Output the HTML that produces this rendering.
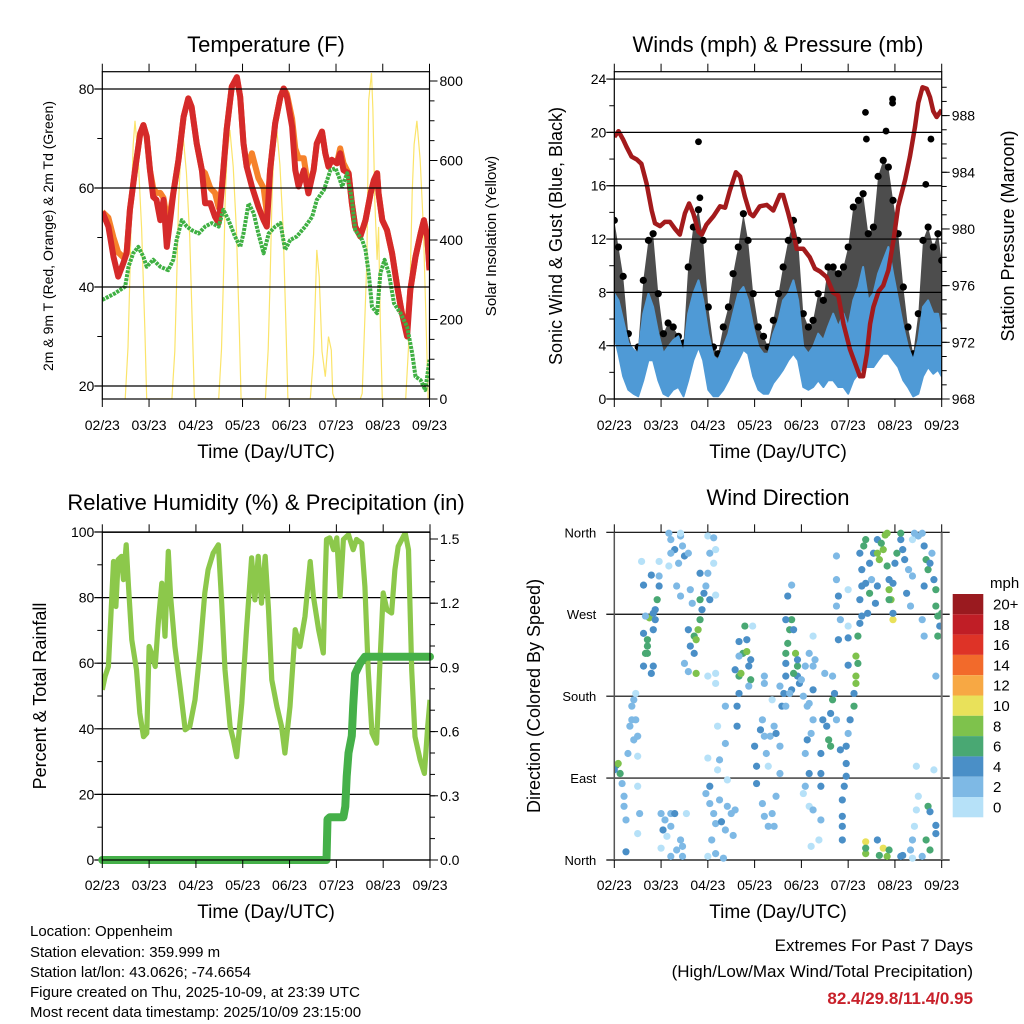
<!DOCTYPE html>
<html><head><meta charset="utf-8"><title>Station meteogram</title>
<style>
html,body{margin:0;padding:0;background:#fff;}
svg{display:block;font-family:"Liberation Sans",Arial,sans-serif;}
</style></head>
<body>
<svg id="fig" width="1024" height="1024" viewBox="0 0 1024 1024" xmlns="http://www.w3.org/2000/svg">
<rect width="1024" height="1024" fill="#fff"/>
<defs>
<clipPath id="c1"><rect x="102.3" y="71.7" width="327.2" height="327.3"/></clipPath>
<clipPath id="c2"><rect x="614.3" y="71.7" width="327.4" height="327.3"/></clipPath>
<clipPath id="c3"><rect x="102.3" y="532.3" width="327.7" height="327.7"/></clipPath>
<clipPath id="c4"><rect x="614.3" y="528" width="327.4" height="336"/></clipPath>
</defs>
<g id="g1"></g>
<g id="g2"></g>
<g id="g3"></g>
<g id="g4"></g>
<g id="txt">
<text x="266" y="52" font-size="22" text-anchor="middle">Temperature (F)</text>
<text x="778" y="52" font-size="22" text-anchor="middle">Winds (mph) &amp; Pressure (mb)</text>
<text x="266" y="510" font-size="22" text-anchor="middle">Relative Humidity (%) &amp; Precipitation (in)</text>
<text x="778" y="505" font-size="22" text-anchor="middle">Wind Direction</text>
<text x="266" y="458" font-size="19" text-anchor="middle">Time (Day/UTC)</text>
<text x="778" y="458" font-size="19" text-anchor="middle">Time (Day/UTC)</text>
<text x="266" y="918" font-size="19" text-anchor="middle">Time (Day/UTC)</text>
<text x="778" y="918" font-size="19" text-anchor="middle">Time (Day/UTC)</text>
<text transform="translate(53,236) rotate(-90)" font-size="14" text-anchor="middle">2m &amp; 9m T (Red, Orange) &amp; 2m Td (Green)</text>
<text transform="translate(496,236) rotate(-90)" font-size="15" text-anchor="middle">Solar Insolation (Yellow)</text>
<text transform="translate(562,236) rotate(-90)" font-size="18" text-anchor="middle">Sonic Wind &amp; Gust (Blue, Black)</text>
<text transform="translate(1014,236) rotate(-90)" font-size="18" text-anchor="middle">Station Pressure (Maroon)</text>
<text transform="translate(46,696) rotate(-90)" font-size="18" text-anchor="middle">Percent &amp; Total Rainfall</text>
<text transform="translate(540,696) rotate(-90)" font-size="18" text-anchor="middle">Direction (Colored By Speed)</text>
<g font-size="15">
<text x="30" y="936">Location: Oppenheim</text>
<text x="30" y="957">Station elevation: 359.999 m</text>
<text x="30" y="977">Station lat/lon: 43.0626; -74.6654</text>
<text x="30" y="997">Figure created on Thu, 2025-10-09, at 23:39 UTC</text>
<text x="30" y="1017">Most recent data timestamp: 2025/10/09 23:15:00</text>
</g>
<text x="973" y="951" font-size="17" text-anchor="end">Extremes For Past 7 Days</text>
<text x="973" y="977" font-size="17" text-anchor="end">(High/Low/Max Wind/Total Precipitation)</text>
<text x="973" y="1004" font-size="17" font-weight="bold" fill="#c8202a" text-anchor="end">82.4/29.8/11.4/0.95</text>
</g>
<g id="legend"></g>
</svg>
<script>
// ---------- data ----------
const dayLabels = ["02/23","03/23","04/23","05/23","06/23","07/23","08/23","09/23"];
const tempT = [0,.13,.24,.34,.45,.52,.59,.70,.81,.88,.95,1.02,1.09,1.16,1.24,1.31,1.38,1.45,1.52,1.63,1.74,1.84,1.91,2.02,2.13,2.2,2.31,2.41,2.49,2.56,2.66,2.77,2.88,2.95,3.02,3.09,3.2,3.34,3.45,3.52,3.59,3.7,3.81,3.88,3.95,4.06,4.13,4.2,4.31,4.41,4.52,4.59,4.7,4.77,4.84,4.91,5.02,5.09,5.16,5.27,5.34,5.41,5.52,5.63,5.74,5.81,5.88,5.91,5.99,6.09,6.2,6.31,6.41,6.52,6.59,6.7,6.81,6.88,6.95,7.0];
const temp2m = [55.2,52.2,46.1,42.1,44.8,46.8,55.6,63.6,71.0,72.7,70.4,63.6,58.2,57.6,53.5,57.6,48.1,53.5,58.9,65.7,74.4,78.1,76.4,69.0,63.6,56.9,56.9,54.2,52.9,60.3,71.7,80.5,82.4,78.4,69.0,64.3,60.3,56.2,53.5,52.2,63.6,73.1,78.4,80.1,78.4,72.4,63.6,60.3,63.6,58.9,63.6,69.0,71.4,67.0,64.3,65.7,65.0,67.0,63.6,63.0,56.9,52.2,50.2,53.5,58.9,61.6,63.0,58.9,53.5,51.5,46.8,40.1,34.7,30.0,39.4,46.1,50.8,53.5,50.2,43.4];
const temp9m = [55.2,54,50,47,46,46.8,55.6,63.6,71.0,72.7,70.4,63.6,60,59,59,58,54,55,59,65.7,74.4,78.1,76.4,69.0,63.6,63,60,59,56,60.3,71.7,80.5,82.2,78.4,69.0,64.3,67,62,60,55,63.6,73.1,78.4,80.1,79,74,68,66,66,60,63.6,69.0,71.4,67.0,64.3,65.7,65.0,68,65,63.0,56.9,52.2,50.2,53.5,58.9,61.6,63.0,58.9,53.5,51.5,46.8,40.1,34.7,31.5,39.4,46.1,50.8,53.5,50.2,43.4];
const dewT = [0,.27,.49,.56,.66,.77,.88,.95,1.09,1.24,1.41,1.52,1.59,1.7,1.81,1.91,2.06,2.2,2.34,2.49,2.59,2.7,2.84,2.95,3.02,3.13,3.24,3.34,3.45,3.56,3.7,3.81,3.91,4.02,4.16,4.34,4.49,4.59,4.74,4.88,4.99,5.06,5.13,5.24,5.34,5.41,5.56,5.63,5.7,5.77,5.88,5.95,6.04,6.13,6.24,6.38,6.52,6.63,6.7,6.81,6.91,7.0];
const dewPt = [37.4,38.7,40.1,44.1,46.8,48.1,46.1,44.1,45.5,44.1,43.4,45.5,49.5,53.5,52.2,51.5,50.8,52.2,52.9,52.2,55.6,53.5,50.2,48.1,50.8,56.9,54.9,50.8,46.8,50.8,52.2,52.9,47.5,49.5,50.2,52.2,54.2,57.6,59.6,63.6,64.0,62.3,60.3,63.0,57.6,51.5,49.5,47.5,42.8,36.0,34.7,42.8,45.5,42.8,36.7,34.7,32.0,26.6,21.9,21.2,19.2,25.3];
const solarT = [0.49,0.55,0.59,0.63,0.66,0.70,0.77,0.84,0.91,0.95, 1.49,1.55,1.59,1.63,1.67,1.73,1.80,1.87,1.93,1.97, 2.49,2.55,2.59,2.63,2.67,2.73,2.80,2.87,2.93,2.97, 3.49,3.55,3.59,3.63,3.67,3.73,3.80,3.87,3.93,3.97, 4.45,4.52,4.59,4.64,4.70,4.77,4.84,4.90,4.93,4.97, 5.52,5.56,5.59,5.66,5.70,5.76,5.79,5.83,5.88,5.91,5.95,5.99, 6.49,6.55,6.59,6.63,6.67,6.73,6.80,6.87,6.93,6.97];
const solarW = [0,130,310,520,640,700,600,430,180,0, 0,120,290,490,600,660,570,410,170,0, 0,125,300,505,615,677,585,420,175,0, 0,125,300,505,620,680,590,425,178,0, 0,113,375,308,120,56,157,123,14,0, 0,14,113,350,752,820,727,500,350,433,182,0, 0,130,310,520,640,700,600,430,180,0];

const windT = [0,.09,.19,.30,.41,.51,.62,.73,.83,.94,1.05,1.15,1.26,1.37,1.48,1.58,1.69,1.8,1.9,2.01,2.12,2.22,2.33,2.44,2.54,2.65,2.76,2.86,2.97,3.08,3.19,3.29,3.4,3.51,3.61,3.72,3.83,3.93,4.04,4.15,4.25,4.36,4.47,4.57,4.68,4.79,4.9,5.0,5.11,5.22,5.32,5.43,5.54,5.64,5.75,5.86,5.96,6.07,6.18,6.28,6.39,6.5,6.6,6.71,6.82,6.92,7.0];
const windHigh = [7.9,7.4,5.9,4.2,3.7,3.4,6.4,7.9,6.9,4.9,3.4,3.9,4.4,4.7,3.4,6.4,7.9,8.9,7.4,4.9,3.2,2.9,3.9,4.9,6.4,7.9,8.4,7.4,5.4,3.9,3.4,3.4,4.9,5.9,7.4,7.9,8.9,7.4,3.9,3.4,3.9,4.9,4.4,5.4,6.4,5.4,6.4,5.4,7.4,8.4,9.9,7.4,7.9,9.4,10.4,11.4,9.4,7.4,5.4,3.9,2.9,4.4,6.9,7.4,6.4,6.4,4.9];
const windLow = [4.7,3.4,1.7,.7,.4,.2,1.4,2.9,2.9,1.4,.4,.2,.7,.9,.2,1.4,2.9,3.9,2.9,.7,.2,.2,.7,1.4,2.2,2.9,3.7,3.4,1.7,.7,.4,.4,1.2,1.7,2.2,2.9,3.4,2.9,.9,.7,.9,1.4,.9,1.4,1.4,.9,.9,.4,1.4,1.9,2.4,2.4,2.4,2.9,3.4,3.4,2.9,2.4,1.4,.9,.2,.4,1.7,2.4,1.9,2.2,1.7];
const gustHigh = [13.4,11.4,9.2,4.9,3.4,3.9,8.9,11.9,12.4,7.9,4.9,5.7,5.4,4.7,4.2,9.9,12.9,14.2,11.9,6.9,3.9,3.4,5.4,6.9,9.4,11.4,13.9,11.9,7.9,5.4,4.7,3.9,5.9,7.9,9.9,11.9,13.4,11.9,6.4,5.4,5.9,7.9,7.4,9.9,9.9,9.4,9.9,11.4,14.4,14.9,15.4,12.4,12.9,16.7,17.9,17.4,14.9,12.4,8.4,5.4,3.4,6.4,11.9,12.9,11.4,12.4,10.4];
const gustOutT = [1.8,5.37,5.39,5.95,5.95,5.81,6.77,6.66,1.83];
const gustOutV = [19.3,21.5,19.5,22.5,22.2,20.1,19.5,16.1,15.1];
const presT = [0,.09,.19,.26,.37,.48,.58,.69,.8,.87,.98,1.08,1.19,1.3,1.4,1.51,1.6,1.69,1.8,1.87,1.97,2.12,2.26,2.37,2.47,2.6,2.69,2.79,2.9,2.97,3.11,3.26,3.4,3.54,3.61,3.72,3.83,3.9,4.04,4.18,4.29,4.4,4.54,4.68,4.79,4.9,5.04,5.15,5.25,5.32,5.4,5.47,5.54,5.65,5.75,5.86,5.97,6.07,6.22,6.32,6.43,6.5,6.59,6.68,6.75,6.82,6.89,7.0];
const presMb = [986.5,986.9,986.3,985.8,985.1,984.9,984.6,983.2,981.3,980.4,980.2,980.5,980.5,980.0,979.6,981.1,981.8,981.1,979.8,979.6,980.3,980.9,981.6,981.5,982.7,984.0,983.7,982.3,981.1,980.9,981.6,981.7,981.3,982.4,982.4,981.1,979.7,978.6,978.6,978.0,977.2,977.0,976.6,975.5,975.3,973.3,971.5,970.5,969.6,969.6,971.2,973.3,974.5,975.6,976.0,977.1,979.2,981.6,983.5,985.1,987.2,988.9,990.0,989.9,989.3,988.3,987.9,988.4];

const rhT = [0,.06,.13,.18,.24,.29,.34,.41,.45,.51,.56,.63,.73,.8,.88,.95,1.0,1.05,1.13,1.2,1.27,1.34,1.41,1.46,1.55,1.66,1.77,1.87,1.98,2.09,2.19,2.26,2.37,2.48,2.55,2.62,2.73,2.8,2.87,2.98,3.08,3.19,3.26,3.33,3.4,3.48,3.55,3.62,3.73,3.83,3.9,4.01,4.12,4.22,4.33,4.44,4.51,4.62,4.72,4.76,4.79,4.86,4.94,5.01,5.08,5.15,5.26,5.36,5.43,5.54,5.61,5.68,5.76,5.86,5.93,6.0,6.08,6.18,6.25,6.32,6.47,6.54,6.61,6.68,6.79,6.88,6.95,7.0];
const rhPct = [51.9,56,59,73.2,91,77.3,91.6,92.6,85.5,96.1,83.4,67.1,58,44.8,37.6,38.7,65.1,63.1,59,73.2,84.4,68.2,94.1,80.4,65.1,52.9,39.7,40.7,48.8,64.1,81.4,88.5,93.6,96.1,78.3,58,40.7,36.6,31.5,47.8,70.2,92.1,79.3,92.6,78.3,92.6,76.3,54.9,46.8,40.7,32.6,46.8,70.2,65.1,74.3,91,80.4,70.2,63.1,84.4,97.7,98.2,94.6,98.2,80.4,97.7,99.2,94.6,97.7,96.6,83.4,58,38.7,35.6,60,81.4,76.3,75.3,88.5,95.6,99.7,94.6,58,37.6,30.5,26.4,40.7,48.8];
const rainT = [0,4.72,4.79,4.81,4.86,5.15,5.19,5.22,5.26,5.33,5.36,5.4,5.51,5.61,7.0];
const rainIn = [0,0,0,0.19,0.2,0.2,0.25,0.39,0.5,0.58,0.72,0.87,0.92,0.95,0.95];

const dirHour = [1,2,3,0,4,5,5,6,7,8,9,10,9,11,11,12,10,12,12,13,12,6,15,17,17,18,20,20,15,19,21,22,21,23,23,14,15,19,23,16,20,17,16,
24,25,26,27,29,29,31,32,34,35,29,24,35,37,28,29,31,29,34,35,36,38,33,34,28,32,34,39,40,38,39,41,42,43,44,45,44,46,44,47,48,49,52,48,51,41,36,42,38,52,51,49,
47,49,51,52,54,50,52,48,56,55,57,58,60,62,61,49,48,53,54,58,57,53,57,52,52,48,63,63,64,64,65,66,68,67,69,70,70,71,64,64,62,68,69,
72,73,73,75,76,77,78,79,76,77,79,81,82,83,85,80,82,83,85,77,77,81,86,87,88,88,88,89,90,91,92,93,94,94,95,91,92,90,88,85,89,91,88,94,96,
97,99,100,102,101,99,98,100,98,97,100,102,101,105,106,106,106,107,109,110,111,111,112,113,114,106,116,108,102,102,98,100,102,103,112,114,114,115,114,116,115,120,120,120,120,
117,117,117,117,118,119,119,119,120,121,123,123,124,124,125,124,125,126,127,126,127,127,126,128,129,131,129,131,130,132,133,135,135,136,138,139,137,140,140,141,141,142,143,143,141,135,134,143,144,145,129,129,129,136,138,140,141,135,
147,147,148,149,151,153,150,152,153,154,156,158,159,160,161,162,164,165,165,166,167,168,166,163,159,158,159,165,147,148,152,153,154,155,156,155,164,161,162,165,165,160,162,158,153];
const dirDeg = [104,106,95,99,84,70,59,44,117,147,169,176,154,154,183,136,132,114,81,51,29,9,249,235,227,266,253,213,213,205,275,286,264,301,312,328,302,313,328,268,271,242,227,
51,33,44,26,51,37,51,11,22,4,4,13,15,51,359,352,341,337,356,345,334,337,326,359,323,301,290,297,282,253,235,246,242,253,264,275,286,293,315,301,315,337,341,356,354,227,216,205,207,291,326,286,
73,62,51,40,66,22,7,4,2,42,33,59,51,55,27,81,112,99,110,88,128,147,169,205,194,202,147,169,183,202,205,227,229,257,213,198,220,257,224,240,209,242,191,
125,103,84,143,154,136,117,103,62,48,37,51,37,70,95,136,147,139,125,202,194,176,169,183,202,216,227,238,253,264,253,227,213,202,194,187,205,183,169,191,290,302,264,220,198,
180,169,172,154,139,132,117,95,81,73,59,55,15,22,81,95,44,154,147,132,125,161,176,183,154,117,121,205,187,213,213,227,246,220,202,334,308,290,279,264,242,244,214,257,297,
48,37,22,66,81,92,106,125,139,154,169,183,194,202,216,224,246,260,268,286,301,319,337,345,352,326,304,293,271,308,337,352,337,330,341,357,348,359,323,308,297,286,304,264,286,301,282,271,326,337,20,7,13,5,13,4,11,22,
352,359,341,330,319,312,293,279,352,359,356,359,345,330,319,326,308,297,279,268,257,271,246,337,301,264,246,202,4,5,11,22,37,55,70,103,99,59,53,38,29,22,11,4,2];
const dirSpd = [6,8,6,4,2,2,2,2,2,2,2,2,2,2,0,2,2,0,0,2,0,4,4,6,6,8,4,4,4,4,4,6,4,4,2,0,4,4,0,2,4,6,6,
2,4,2,0,2,2,4,2,2,2,2,0,2,0,2,2,4,2,2,2,4,2,2,0,0,2,2,2,2,4,4,6,8,8,6,4,6,4,4,2,2,2,0,0,2,4,2,8,2,0,0,4,
2,2,2,2,2,2,2,0,2,4,2,2,2,2,2,4,0,0,2,0,2,0,2,0,0,0,4,4,4,6,8,6,8,6,4,6,4,0,2,4,4,4,2,
4,4,4,4,2,2,2,0,2,2,2,2,2,2,2,2,2,4,2,2,2,0,4,4,4,4,6,6,6,6,4,8,6,4,4,4,6,2,2,2,4,2,4,4,2,
2,2,2,2,2,4,2,4,2,0,0,2,0,0,4,4,2,4,4,6,6,4,6,4,2,4,4,2,4,2,2,2,0,2,2,2,2,4,2,2,4,4,4,0,0,
4,4,4,4,4,4,4,4,2,4,6,4,8,8,6,8,6,4,4,4,4,4,4,6,6,4,4,6,4,2,4,4,8,8,8,8,6,8,6,4,8,8,4,10,6,4,4,4,4,6,10,8,6,6,10,8,6,4,
4,6,4,4,2,2,4,2,0,2,2,2,4,6,6,4,4,6,6,6,4,6,6,2,4,2,2,2,4,4,2,2,0,0,0,0,0,6,4,4,4,6,6,2,0];
const legendLabels = ["20+","18","16","14","12","10","8","6","4","2","0"];
const legendColors = ["#9a1a1f","#c01e26","#de3327","#f26a2b","#f7a844","#e9e15a","#7ec24c","#49a873","#4a8fc7","#7eb9e5","#b6e1f8"];
const tempTicks = [20,40,60,80];
const solarTicks = [0,200,400,600,800];
const windTicks = [0,4,8,12,16,20,24];
const presTicks = [968,972,976,980,984,988];
const rhTicks = [0,20,40,60,80,100];
const rainTicks = [0,0.3,0.6,0.9,1.2,1.5];
const dirTicks = [0,90,180,270,360];
const dirNames = ["North","East","South","West","North"];

// ---------- helpers ----------
const NS = "http://www.w3.org/2000/svg";
function mk(parent, tag, attrs, text) {
  const e = document.createElementNS(NS, tag);
  for (const k in attrs) e.setAttribute(k, attrs[k]);
  if (text !== undefined) e.textContent = text;
  parent.appendChild(e);
  return e;
}
function pathOf(xs, ys, fx, fy) {
  return xs.map((t, i) => (i ? "L" : "M") + fx(t).toFixed(1) + "," + fy(ys[i]).toFixed(1)).join("");
}
function areaOf(xs, hi, lo, fx, fy) {
  let d = xs.map((t, i) => (i ? "L" : "M") + fx(t).toFixed(1) + "," + fy(hi[i]).toFixed(1)).join("");
  for (let i = xs.length - 1; i >= 0; i--) d += "L" + fx(xs[i]).toFixed(1) + "," + fy(lo[i]).toFixed(1);
  return d + "Z";
}
function frame(g, x0, y0, x1, y1, name) {
  const r = mk(g, "rect", {x: x0, y: y0, width: x1 - x0, height: y1 - y0, fill: "none", stroke: "#000", "stroke-width": 1.2});
  
  
}
function timeAxis(g, x0, x1, yTop, yBot, labelY, name) {
  const ax = mk(g, "g", {});
  
  
  dayLabels.forEach((lab, i) => {
    const x = x0 + i * (x1 - x0) / 7;
    mk(ax, "line", {x1: x, x2: x, y1: yTop - 8, y2: yTop, stroke: "#000", "stroke-width": 1});
    mk(ax, "line", {x1: x, x2: x, y1: yBot, y2: yBot + 8, stroke: "#000", "stroke-width": 1});
    const t = mk(ax, "text", {x: x, y: labelY, "font-size": 14, "text-anchor": "middle"}, lab);
    
    
  });
}
function leftAxis(g, vals, fy, x0, x1, labFn, name, minor) {
  const ax = mk(g, "g", {});
  
  
  (minor || []).forEach(v => mk(ax, "line", {x1: x0 - 5, x2: x0, y1: fy(v), y2: fy(v), stroke: "#000"}));
  vals.forEach(v => {
    const y = fy(v);
    mk(ax, "line", {x1: x0 - 8, x2: x1, y1: y, y2: y, stroke: "#000", "stroke-width": 1.2});
    const t = mk(ax, "text", {x: x0 - 8, y: y + 5, "font-size": 14, "text-anchor": "end"}, labFn(v));
    
    
  });
}
function rightAxis(g, vals, minor, fy, x1, labFn, name) {
  const ax = mk(g, "g", {});
  
  
  minor.forEach(v => mk(ax, "line", {x1: x1, x2: x1 + 5, y1: fy(v), y2: fy(v), stroke: "#000"}));
  vals.forEach(v => {
    const y = fy(v);
    mk(ax, "line", {x1: x1, x2: x1 + 8, y1: y, y2: y, stroke: "#000"});
    const t = mk(ax, "text", {x: x1 + 10, y: y + 5, "font-size": 14}, labFn(v));
    
    
  });
}
function range(a, b, s) { const r = []; for (let v = a; v <= b + 1e-9; v += s) r.push(+v.toFixed(3)); return r; }

// ---------- panel 1: temperature ----------
(function () {
  const g = document.getElementById("g1");
  const X0 = 102.3, X1 = 429.5, Y0 = 71.7, Y1 = 399;
  const fx = t => X0 + t * (X1 - X0) / 7;
  const fy = v => 386 - (v - 20) * 4.95;
  const fs = s => 399 - s * 0.3975;
  const plot = mk(g, "g", {"clip-path": "url(#c1)"});
  const sol = mk(plot, "path", {d: pathOf(solarT, solarW, fx, fs), fill: "none", stroke: "#fbe46a", "stroke-width": 1.2});
  
  
  const o = mk(plot, "path", {d: pathOf(tempT, temp9m, fx, fy), fill: "none", stroke: "#f6822b", "stroke-width": 6, "stroke-linejoin": "round"});
  
  
  const r = mk(plot, "path", {d: pathOf(tempT, temp2m, fx, fy), fill: "none", stroke: "#d52a2a", "stroke-width": 6, "stroke-linejoin": "round"});
  
  
  const gd = mk(plot, "path", {d: pathOf(dewT, dewPt, fx, fy), fill: "none", stroke: "#3fb043", "stroke-width": 4, "stroke-dasharray": "3 1", "stroke-linejoin": "round"});
  
  
  leftAxis(g, tempTicks, fy, X0, X1, v => String(v), "temperature-y-axis", range(20, 80, 10));
  rightAxis(g, solarTicks, range(0, 800, 50), fs, X1, v => String(v), "solar-y-axis");
  frame(g, X0, Y0, X1, Y1, "temperature");
  timeAxis(g, X0, X1, Y0, Y1, 430, "temperature");
})();

// ---------- panel 2: wind & pressure ----------
(function () {
  const g = document.getElementById("g2");
  const X0 = 614.3, X1 = 941.7, Y0 = 71.7, Y1 = 399;
  const fx = t => X0 + t * (X1 - X0) / 7;
  const fy = w => 399 - w * 13.33;
  const fp = p => 399 - (p - 968) * 14.17;
  const plot = mk(g, "g", {"clip-path": "url(#c2)"});
  leftAxis(g, windTicks, fy, X0, X1, v => String(v), "wind-y-axis", range(0, 24, 2));
  const ga = mk(plot, "path", {d: areaOf(windT, gustHigh, windLow, fx, fy), fill: "#111", "fill-opacity": 0.75});
  
  
  windT.forEach((t, i) => {
    const c = mk(plot, "circle", {cx: fx(t), cy: fy(gustHigh[i]), r: 3.6, fill: "#000"});
    
    
  });
  gustOutT.forEach((t, i) => {
    const c = mk(plot, "circle", {cx: fx(t), cy: fy(gustOutV[i]), r: 3.4, fill: "#000"});
    
    
  });
  const wa = mk(plot, "path", {d: areaOf(windT, windHigh, windLow, fx, fy), fill: "#4f9ad6", stroke: "#4f9ad6", "stroke-width": 2, "stroke-linejoin": "round"});
  
  
  const pl = mk(plot, "path", {d: pathOf(presT, presMb, fx, fp), fill: "none", stroke: "#a31a1c", "stroke-width": 4.5, "stroke-linejoin": "round"});
  
  
  rightAxis(g, presTicks, range(968, 990, 1), fp, X1, v => String(v), "pressure-y-axis");
  frame(g, X0, Y0, X1, Y1, "winds");
  timeAxis(g, X0, X1, Y0, Y1, 430, "winds");
})();

// ---------- panel 3: humidity & precipitation ----------
(function () {
  const g = document.getElementById("g3");
  const X0 = 102.3, X1 = 430, Y0 = 532.3, Y1 = 860;
  const fx = t => X0 + t * (X1 - X0) / 7;
  const fy = v => 860 - v * 3.28;
  const fr = p => 860 - p * 214;
  leftAxis(g, rhTicks, fy, X0, X1, v => String(v), "humidity-y-axis", range(0, 100, 10));
  const plot = mk(g, "g", {"clip-path": "url(#c3)"});
  const rh = mk(plot, "path", {d: pathOf(rhT, rhPct, fx, fy), fill: "none", stroke: "#8cc84b", "stroke-width": 5.2, "stroke-linejoin": "round"});
  
  
  const rn = mk(g, "path", {d: pathOf(rainT, rainIn, fx, fr), fill: "none", stroke: "#45b049", "stroke-width": 8, "stroke-linejoin": "round", "stroke-linecap": "round"});
  
  
  rightAxis(g, rainTicks, range(0, 1.5, 0.1), fr, X1, v => v.toFixed(1), "rain-y-axis");
  frame(g, X0, Y0, X1, Y1, "humidity");
  timeAxis(g, X0, X1, Y0, Y1, 890, "humidity");
})();

// ---------- panel 4: wind direction ----------
(function () {
  const g = document.getElementById("g4");
  const X0 = 614.3, X1 = 941.7, Y0 = 532.3, Y1 = 860;
  const fx = h => X0 + h * (X1 - X0) / 168;
  const fy = d => 860 - d * 0.9102;
  const ax = mk(g, "g", {});
  
  
  dirTicks.forEach((d, i) => {
    const y = fy(d);
    mk(ax, "line", {x1: X0 - 8, x2: X1 + 8, y1: y, y2: y, stroke: "#000", "stroke-width": 1.2});
    const t = mk(ax, "text", {x: X0 - 18, y: y + 5, "font-size": 13, "text-anchor": "end"}, dirNames[i]);
    
    
  });
  const plot = mk(g, "g", {"clip-path": "url(#c4)"});
  dirHour.forEach((h, i) => {
    const idx = Math.min(10, Math.floor(dirSpd[i] / 2));
    const c = mk(plot, "circle", {cx: fx(h), cy: fy(dirDeg[i]), r: 3.6, fill: legendColors[10 - idx]});
    
    
  });
  mk(g, "line", {x1: X0, x2: X0, y1: Y0, y2: Y1, stroke: "#555", "stroke-width": 1.5});
  mk(g, "line", {x1: X1, x2: X1, y1: Y0, y2: Y1, stroke: "#777", "stroke-width": 2});
  timeAxis(g, X0, X1, Y0, Y1, 890, "direction");
})();

// ---------- legend ----------
(function () {
  const g = document.getElementById("legend");
  const t0 = mk(g, "text", {x: 990, y: 588, "font-size": 15}, "mph");
  
  
  legendLabels.forEach((lab, i) => {
    const y = 594 + i * 20.3;
    const r = mk(g, "rect", {x: 952.7, y: y, width: 30.6, height: 20.3, fill: legendColors[i]});
    
    
    const t = mk(g, "text", {x: 993, y: y + 15.5, "font-size": 15}, lab);
    
    
  });
})();
</script>
</body></html>
